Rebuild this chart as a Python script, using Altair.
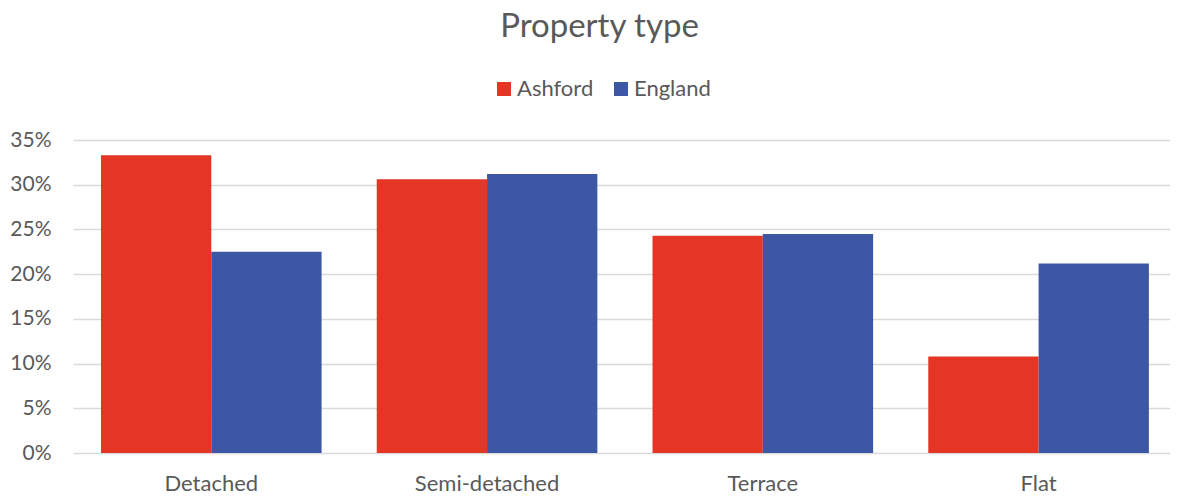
import altair as alt
import pandas as pd

categories = ["Detached", "Semi-detached", "Terrace", "Flat"]
series = ["Ashford", "England"]
ashford = [0.333, 0.306, 0.243, 0.108]
england = [0.225, 0.312, 0.245, 0.212]
colors = ["#E43525", "#3C58A4"]

rows = []
for i, c in enumerate(categories):
    rows.append({"type": c, "area": "Ashford", "share": ashford[i]})
    rows.append({"type": c, "area": "England", "share": england[i]})
df = pd.DataFrame(rows)

FONT = "Lato"
TXT = "#595959"

chart = alt.Chart(df).mark_bar().encode(
    x=alt.X("type:N", sort=categories, title=None,
            scale=alt.Scale(paddingInner=0.2, paddingOuter=0.089, align=0.57),
            axis=alt.Axis(labelAngle=0, labelFontSize=22, labelFont=FONT, labelColor=TXT,
                          labelPadding=20, ticks=False, domain=False)),
    xOffset=alt.XOffset("area:N", sort=series, scale=alt.Scale(paddingInner=0, paddingOuter=0)),
    y=alt.Y("share:Q", title=None,
            scale=alt.Scale(domain=[0, 0.35], nice=False),
            axis=alt.Axis(format=".0%", values=[0, 0.05, 0.1, 0.15, 0.2, 0.25, 0.3, 0.35],
                          labelFontSize=21, labelFont=FONT, labelColor=TXT, labelPadding=22,
                          ticks=False, domain=False, gridColor="#d9d9d9", gridWidth=1.5)),
    color=alt.Color("area:N", sort=series, title=None,
                    scale=alt.Scale(domain=series, range=colors),
                    legend=alt.Legend(orient="none", direction="horizontal", legendX=420, legendY=-62,
                                      symbolType="square", symbolSize=196, symbolStrokeWidth=0,
                                      labelFontSize=22, labelFont=FONT, labelColor=TXT,
                                      labelOffset=2, columnPadding=16)),
).properties(
    width=1097, height=313,
    title=alt.TitleParams("Property type", fontSize=33, font=FONT, color=TXT, fontWeight="normal",
                          anchor="middle", offset=34, dx=-22),
    padding={"left": 65, "top": 132, "right": 0, "bottom": 42},
    autosize=alt.AutoSizeParams(type="none"),
).configure_view(stroke=None)

chart.save("out.html", embed_options={"renderer": "svg", "actions": False})
